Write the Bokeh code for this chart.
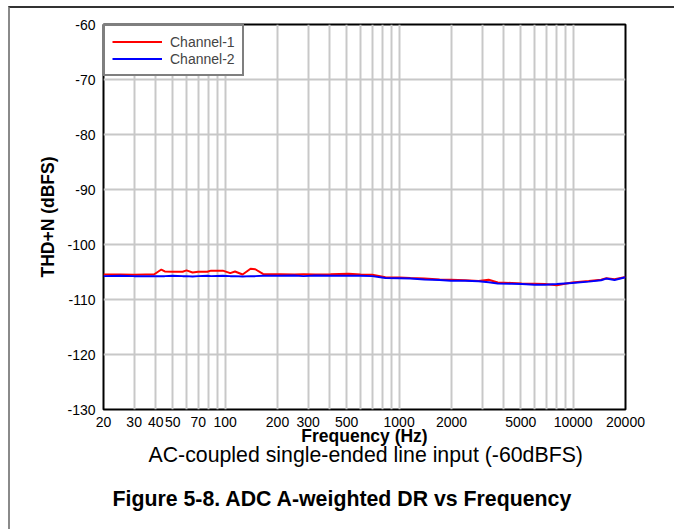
from bokeh.plotting import figure
from bokeh.models import FixedTicker, Legend, LegendItem, Title
from bokeh.embed import file_html
from bokeh.resources import INLINE

# ---- data ----
freq = [20, 25, 30, 35, 39, 43, 45, 50, 57, 60, 65, 70, 79, 83, 97, 107, 114, 126, 140, 149,
        165, 208, 250, 282, 330, 403, 512, 600, 700, 834, 1000, 1160, 1400, 1710, 1980, 2400,
        2860, 3270, 3690, 4440, 5070, 6010, 6890, 8050, 9870, 12300, 14470, 15500, 17300, 20000]
channel_1 = [-105.45, -105.45, -105.5, -105.45, -105.45, -104.55, -104.9, -104.95, -104.95, -104.7,
             -105.1, -104.95, -104.95, -104.75, -104.75, -105.2, -104.9, -105.45, -104.4, -104.5,
             -105.35, -105.4, -105.45, -105.4, -105.45, -105.4, -105.3, -105.45, -105.5, -105.95,
             -106.0, -106.1, -106.2, -106.35, -106.4, -106.5, -106.65, -106.4, -106.9, -107.0,
             -107.1, -107.15, -107.2, -107.4, -106.9, -106.65, -106.4, -106.15, -106.3, -105.9]
channel_2 = [-105.75, -105.7, -105.75, -105.75, -105.75, -105.75, -105.75, -105.7, -105.75, -105.75,
             -105.8, -105.75, -105.7, -105.75, -105.7, -105.75, -105.75, -105.8, -105.75, -105.75,
             -105.7, -105.7, -105.65, -105.75, -105.65, -105.7, -105.7, -105.7, -105.75, -106.1,
             -106.15, -106.2, -106.35, -106.45, -106.6, -106.6, -106.7, -106.85, -107.1, -107.15,
             -107.2, -107.3, -107.3, -107.2, -107.0, -106.75, -106.5, -106.2, -106.45, -105.95]

x_ticks = [20, 30, 40, 50, 70, 100, 200, 300, 500, 1000, 2000, 5000, 10000, 20000]
x_tick_labels = ["20", "30", "40", "50", "70", "100", "200", "300", "500", "1000", "2000",
                 "5000", "10000", "20000"]
x_grid = [20, 30, 40, 50, 60, 70, 80, 90, 100, 200, 300, 400, 500, 600, 700, 800, 900,
          1000, 2000, 3000, 4000, 5000, 6000, 7000, 8000, 9000, 10000, 20000]
y_ticks = [-130, -120, -110, -100, -90, -80, -70, -60]
y_tick_labels = ["-130", "-120", "-110", "-100", "-90", "-80", "-70", "-60"]

x_title = "Frequency (Hz)"
y_title = "THD+N (dBFS)"
subtitle = "AC-coupled single-ended line input (-60dBFS)"
caption = "Figure 5-8. ADC A-weighted DR vs Frequency"

FONT = "Liberation Sans"

p = figure(x_axis_type="log", x_range=(20, 20000), y_range=(-130, -60),
           frame_width=522, frame_height=385,
           min_border_left=93, min_border_right=49, min_border_top=16, min_border_bottom=120,
           output_backend="svg", toolbar_location=None)
p.styles = {"margin-left": "8px", "margin-top": "6px",
            "border-left": "2px solid #8a8a8a", "border-top": "2px solid #333333"}
p.background_fill_color = "white"
p.border_fill_color = "white"
p.outline_line_color = "black"
p.outline_line_width = 2

# axes
p.xaxis.ticker = FixedTicker(ticks=x_ticks, minor_ticks=[])
p.xaxis.major_label_overrides = {t: s for t, s in zip(x_ticks, x_tick_labels)}
p.yaxis.ticker = FixedTicker(ticks=y_ticks, minor_ticks=[])
p.yaxis.major_label_overrides = {t: s for t, s in zip(y_ticks, y_tick_labels)}
for ax in (p.xaxis, p.yaxis):
    ax.axis_line_color = None
    ax.major_tick_line_color = None
    ax.minor_tick_line_color = None
    ax.major_tick_out = 0
    ax.major_tick_in = 0
    ax.major_label_text_font = FONT
    ax.major_label_text_font_size = "14px"
    ax.major_label_text_color = "black"
    ax.axis_label_text_font = FONT
    ax.axis_label_text_font_style = "bold"
    ax.axis_label_text_font_size = "17.5px"
    ax.axis_label_text_color = "black"
p.yaxis.axis_label = y_title
p.xaxis.major_label_standoff = 7
p.yaxis.major_label_standoff = 8
p.yaxis.axis_label_standoff = 6

# grid
p.xgrid.ticker = FixedTicker(ticks=x_grid, minor_ticks=[])
p.ygrid.ticker = FixedTicker(ticks=y_ticks, minor_ticks=[])
for g in (p.xgrid, p.ygrid):
    g.grid_line_color = "#c8c8c8"
    g.grid_line_width = 2

r1 = p.line(freq, channel_1, line_color="#ff0000", line_width=2)
r2 = p.line(freq, channel_2, line_color="#0000ff", line_width=2)

legend = Legend(items=[LegendItem(label="Channel-1", renderers=[r1]),
                       LegendItem(label="Channel-2", renderers=[r2])],
                location="top_left", margin=0, padding=7, spacing=0,
                glyph_width=50, glyph_height=17, label_height=17, label_standoff=8,
                label_text_font=FONT, label_text_font_size="14px",
                border_line_color="black", border_line_width=2,
                background_fill_color="white", background_fill_alpha=1.0)
p.add_layout(legend)

# x-axis title, subtitle and figure caption stacked below the chart
p.add_layout(Title(text=x_title, align="center", standoff=-12,
                   text_font=FONT, text_font_size="17.5px", text_font_style="bold",
                   text_color="black"), "below")
p.add_layout(Title(text=subtitle, align="left", offset=45, standoff=3,
                   text_font=FONT, text_font_size="21.3px", text_font_style="normal",
                   text_color="black"), "below")
p.add_layout(Title(text=caption, align="left", offset=9, standoff=32,
                   text_font=FONT, text_font_size="21.3px", text_font_style="bold",
                   text_color="black"), "below")

open("out.html", "w").write(file_html(p, INLINE))
